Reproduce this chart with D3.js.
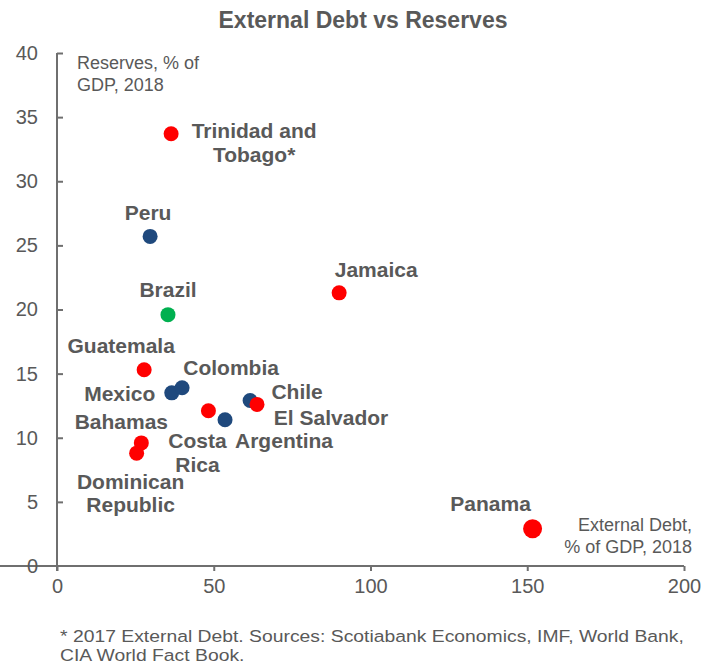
<!DOCTYPE html>
<html>
<head>
<meta charset="utf-8">
<script src="https://cdn.jsdelivr.net/npm/d3@7"></script>
<style>
  html, body { margin: 0; padding: 0; background: #fff; }
  svg { display: block; font-family: "Liberation Sans", Arial, sans-serif; }
</style>
</head>
<body>
<svg id="chart" width="718" height="664"></svg>
<script>
// Countries, external debt (% of GDP) and reserves (% of GDP), 2018
const countries = ["Trinidad and Tobago*", "Peru", "Brazil", "Jamaica", "Guatemala", "Mexico", "Colombia",
  "Costa Rica", "Argentina", "Chile", "El Salvador", "Bahamas", "Dominican Republic", "Panama"];
const externalDebt = [36.4, 29.7, 35.4, 90.0, 27.8, 36.6, 39.9, 48.3, 53.6, 61.6, 63.8, 26.9, 25.4, 151.7];
const reserves = [33.7, 25.7, 19.6, 21.3, 15.3, 13.5, 13.9, 12.1, 11.4, 12.9, 12.6, 9.6, 8.8, 2.9];
const groups = ["red", "blue", "green", "red", "red", "blue", "blue", "red", "blue", "blue", "red", "red", "red", "red"];

// Label text lines and their offsets from each point (dx, dy in px)
const labelLines = [["Trinidad and", "Tobago*"], ["Peru"], ["Brazil"], ["Jamaica"], ["Guatemala"], ["Mexico"],
  ["Colombia"], ["Costa", "Rica"], ["Argentina"], ["Chile"], ["El Salvador"], ["Bahamas"], ["Dominican", "Republic"], ["Panama"]];
const labelOffsets = [[83, 9], [-2, -24], [0, -25], [37, -23], [-23, -24], [-52, 1], [49, -20], [-11, 42],
  [59, 21], [47, -9], [74, 13], [-20, -21], [-6, 40], [-42, -25]];

const xTicks = [0, 50, 100, 150, 200];
const yTicks = [0, 5, 10, 15, 20, 25, 30, 35, 40];

const colors = { red: "#FF0000", blue: "#1F497D", green: "#00B050" };
const textColor = "#595959";
const axisColor = "#6f6f6f";

const svg = d3.select("#chart");
const margin = { left: 57, right: 34, top: 53, bottom: 98 };
const W = 718, H = 664;

const x = d3.scaleLinear().domain([0, 200]).range([margin.left, W - margin.right]);
const y = d3.scaleLinear().domain([0, 40]).range([H - margin.bottom, margin.top]);

// Title
svg.append("text")
  .attr("x", 363).attr("y", 28)
  .attr("text-anchor", "middle")
  .attr("font-size", 23).attr("font-weight", "bold")
  .attr("fill", textColor)
  .text("External Debt vs Reserves");

// X axis
const xAxis = svg.append("g")
  .attr("transform", `translate(0,${y(0)})`)
  .call(d3.axisBottom(x).tickValues(xTicks).tickSize(5).tickPadding(8).tickSizeOuter(0));
// Y axis (ticks inside)
const yAxis = svg.append("g")
  .attr("transform", `translate(${x(0)},0)`)
  .call(d3.axisLeft(y).tickValues(yTicks).tickSize(-6).tickPadding(19).tickSizeOuter(0));

[xAxis, yAxis].forEach(g => {
  g.select(".domain").attr("stroke", axisColor).attr("stroke-width", 2);
  g.selectAll(".tick line").attr("stroke", axisColor).attr("stroke-width", 2);
  g.selectAll(".tick text").attr("fill", textColor).attr("font-size", 20)
    .attr("font-family", "Liberation Sans, Arial, sans-serif");
});
yAxis.selectAll(".tick line").filter(d => d === 0).remove();
xAxis.selectAll(".tick line").filter(d => d === 0).attr("y1", -1);
yAxis.select(".domain").attr("d", `M0,${y(40)}V${y(0) + 5}`);
xAxis.select(".domain").attr("d", `M${0},0H${x(200)}`);

// Axis titles
svg.append("text")
  .attr("x", 77).attr("y", 69)
  .attr("font-size", 18).attr("fill", textColor)
  .selectAll("tspan").data(["Reserves, % of", "GDP, 2018"]).join("tspan")
  .attr("x", 77).attr("dy", (d, i) => i === 0 ? 0 : 22).text(d => d);

svg.append("text")
  .attr("x", 692).attr("y", 531)
  .attr("font-size", 18).attr("fill", textColor).attr("text-anchor", "end")
  .selectAll("tspan").data(["External Debt,", "% of GDP, 2018"]).join("tspan")
  .attr("x", 692).attr("dy", (d, i) => i === 0 ? 0 : 22).text(d => d);

// Points
const data = countries.map((c, i) => ({
  name: c, xv: externalDebt[i], yv: reserves[i], group: groups[i],
  lines: labelLines[i], off: labelOffsets[i]
}));

svg.append("g").selectAll("circle").data(data).join("circle")
  .attr("cx", d => x(d.xv)).attr("cy", d => y(d.yv))
  .attr("r", d => d.name === "Panama" ? 9.5 : 7.5)
  .attr("fill", d => colors[d.group]);

// Point labels
const labels = svg.append("g").selectAll("text").data(data).join("text")
  .attr("text-anchor", "middle")
  .attr("font-size", 21).attr("font-weight", "bold")
  .attr("fill", textColor)
  .attr("transform", d => `translate(${x(d.xv) + d.off[0]},${y(d.yv) + d.off[1]})`);
labels.selectAll("tspan").data(d => d.lines.map((t, i) => ({ t, i, n: d.lines.length }))).join("tspan")
  .attr("x", 0)
  .attr("y", d => (d.i - (d.n - 1) / 2) * 23.5)
  .attr("dy", "0.35em")
  .text(d => d.t);

// Footnote, stretched horizontally to span the plot width
const footLines = ["* 2017 External Debt. Sources: Scotiabank Economics, IMF, World Bank,", "CIA World Fact Book."];
const foot = svg.append("g");
const footText = foot.append("text")
  .attr("x", 0).attr("y", 0)
  .attr("font-size", 16.5).attr("fill", textColor);
footText.selectAll("tspan").data(footLines).join("tspan")
  .attr("x", 0).attr("dy", (d, i) => i === 0 ? 0 : 19).text(d => d);
const firstLen = footText.select("tspan").node().getComputedTextLength();
const sx = 624 / firstLen;
foot.attr("transform", `translate(60,642) scale(${sx},1)`);
</script>
</body>
</html>
